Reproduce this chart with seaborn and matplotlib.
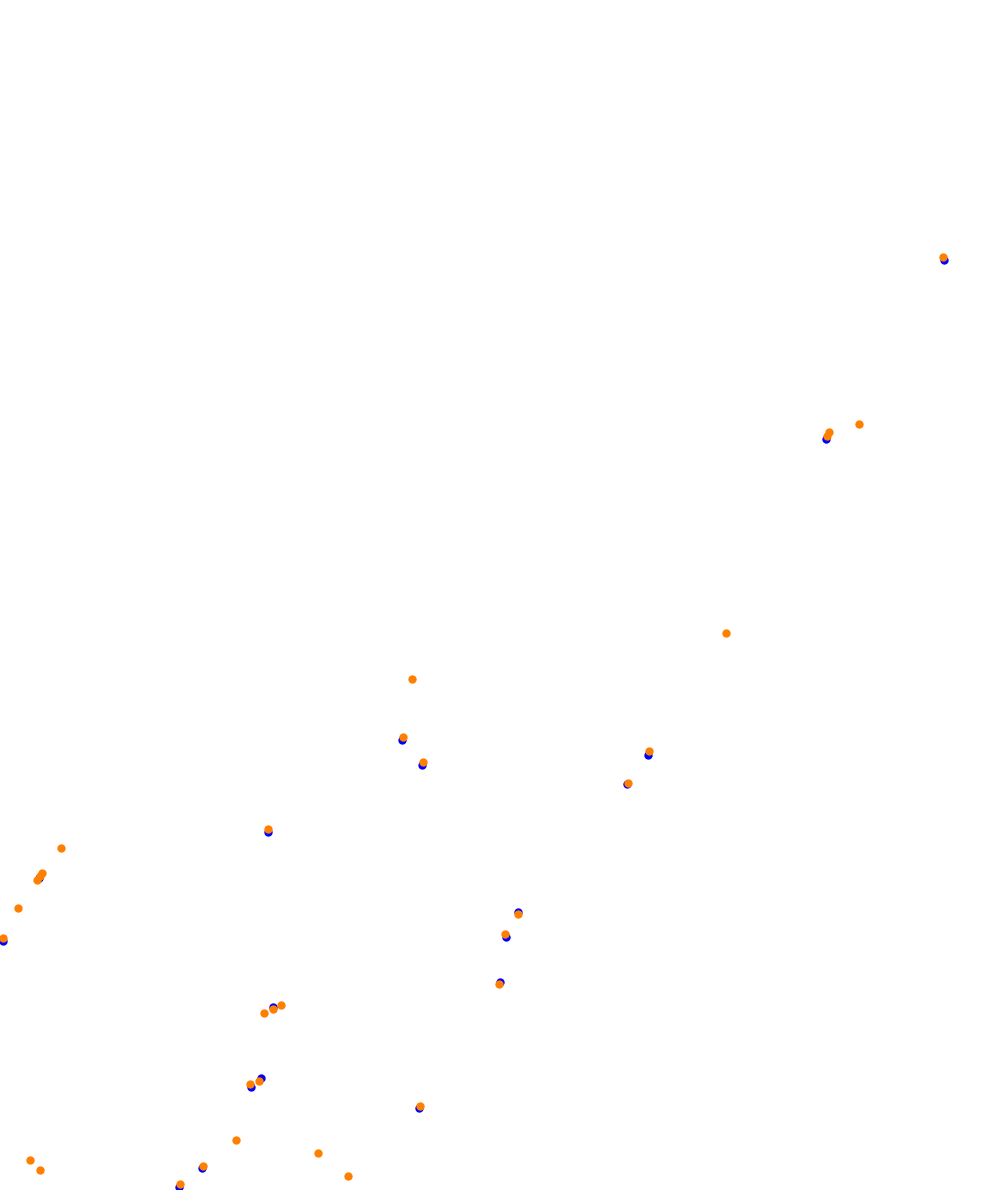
import matplotlib
matplotlib.use("Agg")
import matplotlib.pyplot as plt
import seaborn as sns

blue_x = [944, 826, 648, 627, 422, 402, 268, 39, 3, 518, 506, 500, 273, 261, 251, 419, 202, 179]
blue_y = [260, 439, 755, 784, 765, 740, 832, 878, 941, 912, 937, 982, 1007, 1078, 1087, 1108, 1168, 1187]

orange_x = [943, 859, 829, 827, 726, 649, 628, 412, 403, 423, 268, 61, 42, 40, 37, 18, 3,
            518, 505, 499, 281, 273, 264, 259, 250, 420, 236, 203, 180, 30, 40, 318, 348]
orange_y = [257, 424, 432, 436, 633, 751, 783, 679, 737, 762, 829, 848, 873, 876, 880, 908, 938,
            914, 934, 984, 1005, 1009, 1013, 1081, 1084, 1106, 1140, 1166, 1184, 1160, 1170, 1153, 1176]

X_RANGE = (0, 1002)
Y_RANGE = (1190, 0)

sns.set_theme(style="white")
fig = plt.figure(figsize=(10.02, 11.90), dpi=100)
ax = fig.add_axes([0, 0, 1, 1])
sns.scatterplot(x=blue_x, y=blue_y, color="#0000ff", s=36, linewidth=0, ax=ax,
                antialiased=False, snap=False)
sns.scatterplot(x=orange_x, y=orange_y, color="#ff7f00", s=36, linewidth=0, ax=ax,
                antialiased=False, snap=False)
ax.set_xlim(*X_RANGE)
ax.set_ylim(*Y_RANGE)
ax.axis("off")
fig.savefig("out.png", dpi=100, facecolor="white")
